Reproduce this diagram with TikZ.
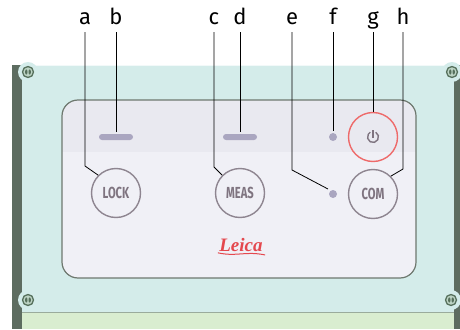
\documentclass[tikz,border=0pt]{standalone}
\usepackage{fontspec}
\setmainfont{Fira Sans}
\newfontfamily\logofont{Liberation Serif}
\definecolor{bodydark}{HTML}{5D6C60}
\definecolor{bodyteal}{HTML}{D4ECEA}
\definecolor{bodygreen}{HTML}{D9EDD0}
\definecolor{seamgrey}{HTML}{9AAB9C}
\definecolor{panelfill}{HTML}{F0F0F6}
\definecolor{panelband}{HTML}{E9E9F0}
\definecolor{panelrim}{HTML}{6E786F}
\definecolor{ledgrey}{HTML}{AAA6C0}
\definecolor{keyring}{HTML}{8E8590}
\definecolor{keytext}{HTML}{7F7480}
\definecolor{powerred}{HTML}{EE6A6A}
\definecolor{logored}{HTML}{E4484E}
\definecolor{screwring}{HTML}{56705C}
\definecolor{screwfill}{HTML}{BCD3C4}
\tikzset{
  callout/.style={font=\fontsize{22}{22}\selectfont, anchor=base, inner sep=0pt, text depth=0pt},
  leader/.style={draw=black, line width=0.8pt},
  keycap/.style={circle, draw=keyring, line width=1.4pt, minimum size=49pt, inner sep=0pt,
    font=\fontsize{16}{16}\selectfont\bfseries, text=keytext},
  ledbar/.style={rectangle, rounded corners=3pt, fill=ledgrey, minimum width=34pt,
    minimum height=6pt, inner sep=0pt},
  leddot/.style={circle, fill=ledgrey, minimum size=8pt, inner sep=0pt},
  screw/.pic={
    \fill[bodyteal] (0,0) circle (10);
    \draw[screwring, line width=1.3pt, fill=screwfill] (0,0) circle (5.5);
    \fill[screwring] (-1.7,0) ellipse (1.2 and 2.6);
    \fill[screwring] (1.7,0) ellipse (1.2 and 2.6);
  }
}
\begin{document}
\begin{tikzpicture}[x=1pt,y=-1pt]
\useasboundingbox (0,0) rectangle (460,329);
\fill[white] (0,0) rectangle (460,329);

% housing
\fill[bodydark] (12,65) rectangle (460,329);
\fill[bodyteal] (22,65) rectangle (454,312);
\fill[bodygreen] (22,312) rectangle (454,329);
\draw[seamgrey, line width=1pt] (22,312) -- (454,312);
\draw[white!70!bodyteal, line width=1pt] (22,65.5) -- (454,65.5);
\pic at (28,72) {screw};
\pic at (452,72) {screw};
\pic at (28,300) {screw};
\pic at (451,300) {screw};

% keypad panel
\begin{scope}
  \clip[rounded corners=16pt] (62,100) rectangle (416,278);
  \fill[panelfill] (62,100) rectangle (416,278);
  \fill[panelband] (62,100) rectangle (416,152);
\end{scope}
\draw[panelrim, line width=1.2pt, rounded corners=16pt] (62,100) rectangle (416,278);

% indicators and keys
\node[ledbar] (ledb) at (116,137) {};
\node[ledbar] (ledd) at (240,137) {};
\node[leddot] (dotf) at (333,137) {};
\node[leddot] (dote) at (333,194) {};
\node[keycap] (lock) at (116,193) {\scalebox{0.7}[1]{LOCK}};
\node[keycap] (meas) at (240,193) {\scalebox{0.7}[1]{MEAS}};
\node[keycap] (com)  at (373,194) {\scalebox{0.7}[1]{COM}};
\node[keycap, draw=powerred] (power) at (373,137) {};
% power symbol: open ring with a stroke through its gap
\draw[keytext, line width=1.4pt] (power.center) ++(-60:5.5) arc[start angle=-60, end angle=240, radius=5.5];
\draw[keytext, line width=1.4pt] ([yshift=-1pt]power.center) -- ([yshift=7pt]power.center);

% maker's logo
\node[text=logored, font=\logofont\fontsize{19}{19}\selectfont\bfseries\itshape, inner sep=0pt]
  (logo) at (241,245) {Leica};
\draw[logored, line width=1pt, line cap=round] ([shift={(-1pt,-1pt)}]logo.south west)
  .. controls ([shift={(18pt,-5pt)}]logo.south west) and ([shift={(-18pt,1pt)}]logo.south east) .. ([shift={(2pt,-3pt)}]logo.south east);

% callout letters
\node[callout] (la) at (85,25) {a};
\node[callout] (lb) at (116,25) {b};
\node[callout] (lc) at (214,25) {c};
\node[callout] (ld) at (240,25) {d};
\node[callout] (le) at (292,25) {e};
\node[callout] (lf) at (333,25) {f};
\node[callout] (lg) at (373,25) {g};
\node[callout] (lh) at (403,25) {h};

% leader lines
\coordinate (abend) at (85,166);
\coordinate (cbend) at (214,167);
\coordinate (ebend) at (292,170);
\coordinate (hbend) at (403,169);
\draw[leader] ([yshift=-7pt]la.south) -- (abend) -- (lock.north west);
\draw[leader] ([yshift=-7pt]lb.south) -- ([yshift=2pt]ledb.north);
\draw[leader] ([yshift=-7pt]lc.south) -- (cbend) -- (meas.north west);
\draw[leader] ([yshift=-7pt]ld.south) -- ([yshift=2pt]ledd.north);
\draw[leader] ([yshift=-7pt]le.south) -- (ebend) -- ([shift={(-2pt,2pt)}]dote.north west);
\draw[leader] ([yshift=-7pt]lf.south) -- ([yshift=2pt]dotf.north);
\draw[leader] ([yshift=-7pt]lg.south) -- (power.north);
\draw[leader] ([yshift=-7pt]lh.south) -- (hbend) -- (com.north east);
\end{tikzpicture}
\end{document}
